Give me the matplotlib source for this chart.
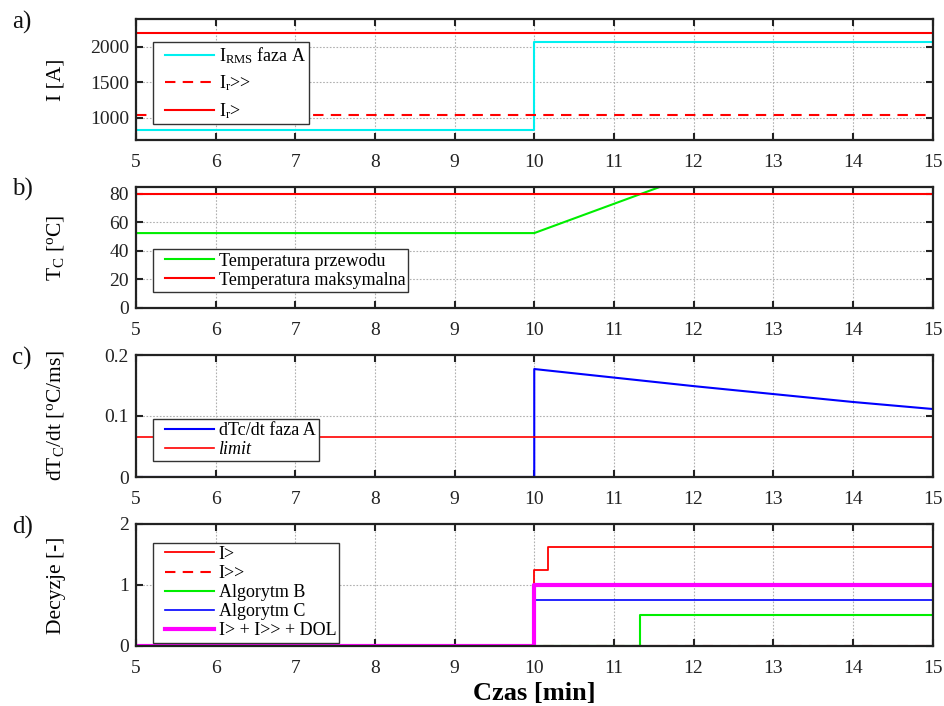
import matplotlib
matplotlib.use("Agg")
import matplotlib.pyplot as plt
from matplotlib.lines import Line2D
from matplotlib.legend_handler import HandlerLine2D

plt.rcParams['font.family'] = ['Liberation Serif', 'DejaVu Serif']
plt.rcParams['mathtext.fontset'] = 'custom'
plt.rcParams['mathtext.rm'] = 'Liberation Serif'
plt.rcParams['mathtext.it'] = 'Liberation Serif:italic'
plt.rcParams['mathtext.bf'] = 'Liberation Serif:bold'

# --- time axis [min] ---
x_ticks = [5, 6, 7, 8, 9, 10, 11, 12, 13, 14, 15]

# a) phase A RMS current and overcurrent thresholds [A]
t_irms = [5, 10, 15]
irms = [830, 2070, 2070]
ir_gt = 2190
ir_gtgt = 1040

# b) conductor temperature [°C]
t_temp = [5, 10, 15]
temp_cond = [52.5, 52.5, 155]
temp_max = 80

# c) temperature rate of change [°C/ms]
t_rate = [5, 10, 10, 11, 12, 13, 14, 15]
rate = [0, 0, 0.177, 0.163, 0.149, 0.136, 0.123, 0.1115]
rate_limit = 0.066

# d) protection decisions [-]
t_dec_gt = [5, 10, 10.17, 15]
dec_gt = [0, 1.25, 1.625, 1.625]
t_dec_gtgt = [5, 15]
dec_gtgt = [0, 0]
t_dec_b = [5, 11.33, 15]
dec_b = [0, 0.5, 0.5]
t_dec_c = [5, 10, 15]
dec_c = [0, 0.75, 0.75]
t_dec_sum = [5, 10, 15]
dec_sum = [0, 1, 1]


class IndentedLineHandler(HandlerLine2D):
    """Legend line sample drawn with a small indent from the frame."""
    def __init__(self, indent, **kw):
        super().__init__(**kw)
        self.indent = indent

    def create_artists(self, legend, orig_handle, xdescent, ydescent,
                       width, height, fontsize, trans):
        return super().create_artists(legend, orig_handle,
                                      xdescent - self.indent, ydescent,
                                      width - self.indent, height,
                                      fontsize, trans)


fig = plt.figure(figsize=(9.44, 7.06), dpi=100)
W, H = 944, 706
left_px, right_px = 136, 932.5
tops = [19, 186.7, 355, 524]
bottoms = [140, 308, 477, 645.7]

axes = []
for tp, bt in zip(tops, bottoms):
    ax = fig.add_axes([left_px / W, 1 - bt / H, (right_px - left_px) / W, (bt - tp) / H])
    axes.append(ax)

legend_kw = dict(loc='lower left', fontsize=13, frameon=True, fancybox=False,
                 framealpha=1, edgecolor='#333333', handlelength=3.2,
                 handletextpad=0.25, borderpad=0.18, labelspacing=0.12,
                 borderaxespad=0,
                 handler_map={Line2D: IndentedLineHandler(6)})

def style(ax, yticks, ylim):
    ax.set_xlim(5, 15)
    ax.set_ylim(*ylim)
    ax.set_xticks(x_ticks)
    ax.set_yticks(yticks)
    ax.tick_params(direction='in', length=5, width=1.5, top=True, right=True,
                   labelsize=14, colors='#222222', labelcolor='#222222')
    ax.tick_params(axis='y', pad=5)
    ax.tick_params(axis='x', pad=10)
    for s in ax.spines.values():
        s.set_linewidth(1.6)
        s.set_color('#222222')
    ax.grid(True, color='#b0b0b0', linestyle=(0, (1.5, 1.5)), linewidth=0.8)
    ax.set_axisbelow(True)
    ax.yaxis.set_label_coords(-0.088, 0.5)

def leg_x():
    return (153 - left_px) / (right_px - left_px)

# a)
ax = axes[0]
ax.plot(t_irms, irms, color='#00f0f0', lw=1.5, drawstyle='steps-post', label=r'I$_{\mathrm{RMS}}$ faza A')
ax.axhline(ir_gtgt, color='red', lw=1.5, ls=(0, (5, 3.5)), label=r'I$_{\mathrm{r}}$>>')
ax.axhline(ir_gt, color='red', lw=1.5, label=r'I$_{\mathrm{r}}$>')
style(ax, [1000, 1500, 2000], (690, 2390))
ax.set_ylabel('I [A]', fontsize=15.5)
kw_a = dict(legend_kw, labelspacing=0.42)
ax.legend(bbox_to_anchor=(leg_x(), (140 - 124) / 121), **kw_a)

# b)
ax = axes[1]
ax.plot(t_temp, temp_cond, color='#00ee00', lw=1.5, label='Temperatura przewodu')
ax.axhline(temp_max, color='red', lw=1.5, label='Temperatura maksymalna')
style(ax, [0, 20, 40, 60, 80], (0, 85))
ax.set_ylabel(r'T$_{\mathrm{C}}$ [$^{\mathrm{o}}$C]', fontsize=15.5)
ax.legend(bbox_to_anchor=(leg_x(), (308 - 292) / 121.3), **legend_kw)

# c)
ax = axes[2]
ax.plot(t_rate, rate, color='blue', lw=1.5, label='dTc/dt faza A')
ax.axhline(rate_limit, color='red', lw=1.2, label='limit')
style(ax, [0, 0.1, 0.2], (0, 0.2))
ax.set_yticklabels(['0', '0.1', '0.2'])
ax.set_ylabel(r'dT$_{\mathrm{C}}$/dt [$^{\mathrm{o}}$C/ms]', fontsize=15.5)
leg = ax.legend(bbox_to_anchor=(leg_x(), (477 - 461.3) / 122), **legend_kw)
leg.get_texts()[1].set_fontstyle('italic')

# d)
ax = axes[3]
ax.plot(t_dec_gt, dec_gt, color='red', lw=1.3, drawstyle='steps-post', label='I>')
ax.plot(t_dec_gtgt, dec_gtgt, color='red', lw=1.5, ls=(0, (5, 3.5)), label='I>>')
ax.plot(t_dec_b, dec_b, color='#00ee00', lw=1.5, drawstyle='steps-post', label='Algorytm B')
ax.plot(t_dec_c, dec_c, color='blue', lw=1.2, drawstyle='steps-post', label='Algorytm C')
ax.plot(t_dec_sum, dec_sum, color='magenta', lw=3, drawstyle='steps-post', label='I> + I>> + DOL')
style(ax, [0, 1, 2], (0, 2))
ax.set_ylabel('Decyzje [-]', fontsize=15.5)
ax.legend(bbox_to_anchor=(leg_x(), (645.7 - 642.7) / 121.7), **legend_kw)
ax.set_xlabel('Czas [min]', fontsize=19, fontweight='bold', labelpad=4)

for lab, tp in zip(['a)', 'b)', 'c)', 'd)'], tops):
    fig.text(12 / W, 1 - (tp + 3) / H, lab, fontsize=18, ha='left', va='center', color='#111111')

fig.savefig('out.png', dpi=100)
